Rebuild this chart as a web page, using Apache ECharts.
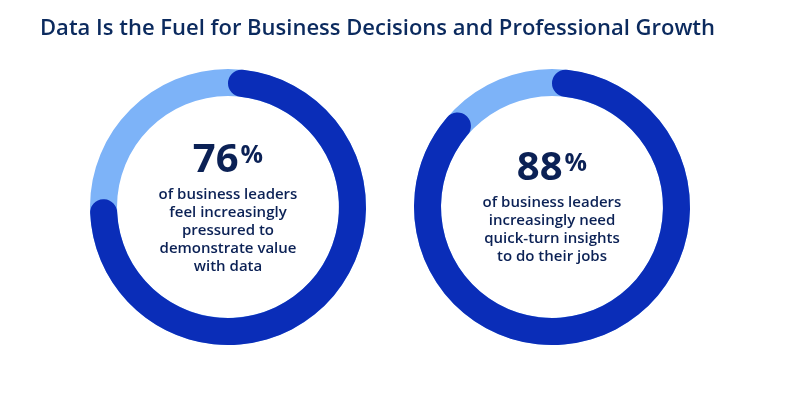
<!DOCTYPE html>
<html><head><meta charset="utf-8">
<script src="https://cdn.jsdelivr.net/npm/echarts@6/dist/echarts.min.js"></script>
<style>html,body{margin:0;padding:0;background:#fff}#c{width:812px;height:400px}</style>
</head><body><div id="c"></div>
<script>
const chartTitle = 'Data Is the Fuel for Business Decisions and Professional Growth';
const percentages = [76, 88];
const totals = [100, 100];
const captions = [
  ['of business leaders', 'feel increasingly', 'pressured to', 'demonstrate value', 'with data'],
  ['of business leaders', 'increasingly need', 'quick-turn insights', 'to do their jobs']
];

const DARK = '#0A2DB8', LIGHT = '#7DB3F8', NAVY = '#0B2155';
const centers = [[228, 207], [552, 207]];
const R_IN = 111, R_OUT = 138;
const NUM_FONT = 'bold 40px "Open Sans"', PCT_FONT = 'bold 25px "Open Sans"', CAP_FONT = '600 15px "Open Sans"';

const ctx = document.createElement('canvas').getContext('2d');
function tw(t, f) { ctx.font = f; return ctx.measureText(t).width; }

const chart = echarts.init(document.getElementById('c'), null, {renderer: 'canvas'});
const polar = [], angleAxis = [], radiusAxis = [], series = [], graphic = [];
percentages.forEach((p, i) => {
  const [cx, cy] = centers[i];
  polar.push({center: centers[i], radius: [R_IN, R_OUT]});
  angleAxis.push({polarIndex: i, type: 'value', min: 0, max: totals[i], startAngle: 90, clockwise: true, show: false});
  radiusAxis.push({polarIndex: i, type: 'category', data: ['v'], show: false});
  series.push({type: 'bar', coordinateSystem: 'polar', polarIndex: i, data: [p], barCategoryGap: '0%',
    showBackground: true, backgroundStyle: {color: LIGHT},
    itemStyle: {color: DARK, borderRadius: (R_OUT - R_IN) / 2}, silent: true});
  const lines = captions[i];
  const n = lines.length;
  const baseline = cy - 8 * n + 8;
  const numMid = baseline - 14.5;
  const ns = String(p);
  const wn = tw(ns, NUM_FONT), wp = tw('%', PCT_FONT), gap = 2;
  const x0 = cx - (wn + gap + wp) / 2;
  graphic.push({type: 'text', x: x0, y: numMid, style: {text: ns, font: NUM_FONT, fill: NAVY, align: 'left', verticalAlign: 'middle'}});
  graphic.push({type: 'text', x: x0 + wn + gap, y: numMid - 5, style: {text: '%', font: PCT_FONT, fill: NAVY, align: 'left', verticalAlign: 'middle'}});
  lines.forEach((t, k) => {
    graphic.push({type: 'text', x: cx, y: baseline + 19.5 + k * 18, style: {text: t, font: CAP_FONT, fill: NAVY, align: 'center', verticalAlign: 'middle'}});
  });
});

chart.setOption({
  animation: false,
  title: {text: chartTitle, left: 35, top: 13, textStyle: {color: '#0B2A5E', fontFamily: 'Open Sans', fontWeight: 600, fontSize: 22}},
  polar, angleAxis, radiusAxis, series, graphic
});
</script></body></html>
